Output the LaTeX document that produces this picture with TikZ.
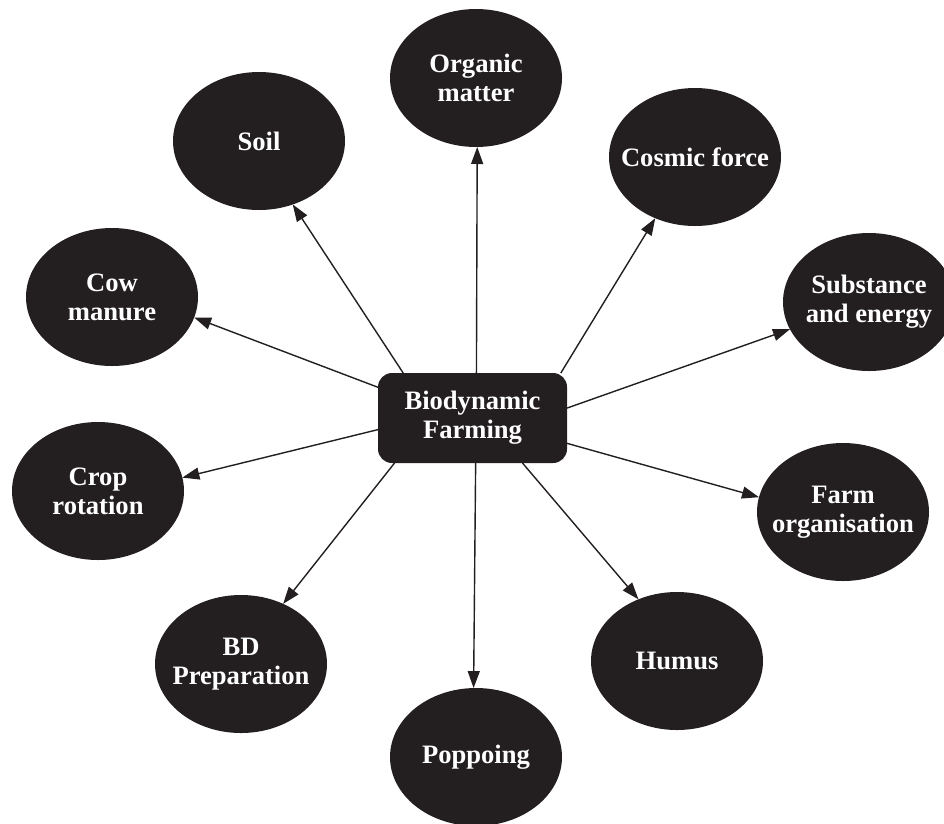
\documentclass[tikz,border=0pt]{standalone}
\usepackage{fontspec}
\setmainfont{Liberation Serif}
\usetikzlibrary{arrows.meta,shapes.geometric}
\definecolor{ink}{HTML}{231F20}
\begin{document}
\begin{tikzpicture}[x=1pt,y=-1pt,
  label text/.style={text=white, font=\bfseries\fontsize{26.6}{29}\selectfont,
    align=center, inner sep=0pt},
  bubble/.style={ellipse, fill=ink, minimum width=172pt, minimum height=138pt,
    inner sep=0pt, outer sep=0pt},
  hub/.style={rectangle, rounded corners=14pt, fill=ink, minimum width=189pt,
    minimum height=90pt, inner sep=0pt, outer sep=0pt, label text},
  arr/.style={draw=ink, line width=1.4pt, -{Triangle[length=17pt,width=12pt]}}]
\useasboundingbox (0,0) rectangle (944,823);

% central concept
\node[hub] (bd) at (472.5,418) {Biodynamic\\Farming};

% surrounding concepts: a fixed-size ellipse with its caption on top
\node[bubble] (om)   at (476,78)  {};
\node[bubble] (soil) at (259,141) {};
\node[bubble] (cf)   at (695,157) {};
\node[bubble] (cow)  at (112,297) {};
\node[bubble] (sub)  at (869,302) {};
\node[bubble] (crop) at (98,491)  {};
\node[bubble] (farm) at (843,512) {};
\node[bubble] (prep) at (241,664) {};
\node[bubble] (hum)  at (677,661) {};
\node[bubble] (pop)  at (476,757) {};

\node[label text] (omT)   at (om)   {Organic\\matter};
\node[label text] (soilT) at (soil) {Soil};
\node[label text] (cfT)   at (cf)   {Cosmic force};
\node[label text] (cowT)  at (cow)  {Cow\\manure};
\node[label text] (subT)  at (sub)  {Substance\\and energy};
\node[label text] (cropT) at (crop) {Crop\\rotation};
\node[label text] (farmT) at (farm) {Farm\\organisation};
\node[label text] (prepT) at (prep) {BD\\Preparation};
\node[label text] (humT)  at (hum)  {Humus};
\node[label text] (popT)  at (pop)  {Poppoing};

% connectors from the hub to each concept
\draw[arr] (bd.85.5)  -- (om.271.6);
\draw[arr] (bd.147)   -- (soil.298);
\draw[arr] (bd.27.5)  -- (cf.237.6);
\draw[arr] (bd.162.4) -- (cow.346);
\draw[arr] (bd.6.6)   -- (sub.199);
\draw[arr] (bd.187.2) -- (crop.9.4);
\draw[arr] (bd.345.2) -- (farm.170.8);
\draw[arr] (bd.210.3) -- (prep.55.9);
\draw[arr] (bd.318.3) -- (hum.122.4);
\draw[arr] (bd.274.5) -- (pop.92.5);
\end{tikzpicture}
\end{document}
